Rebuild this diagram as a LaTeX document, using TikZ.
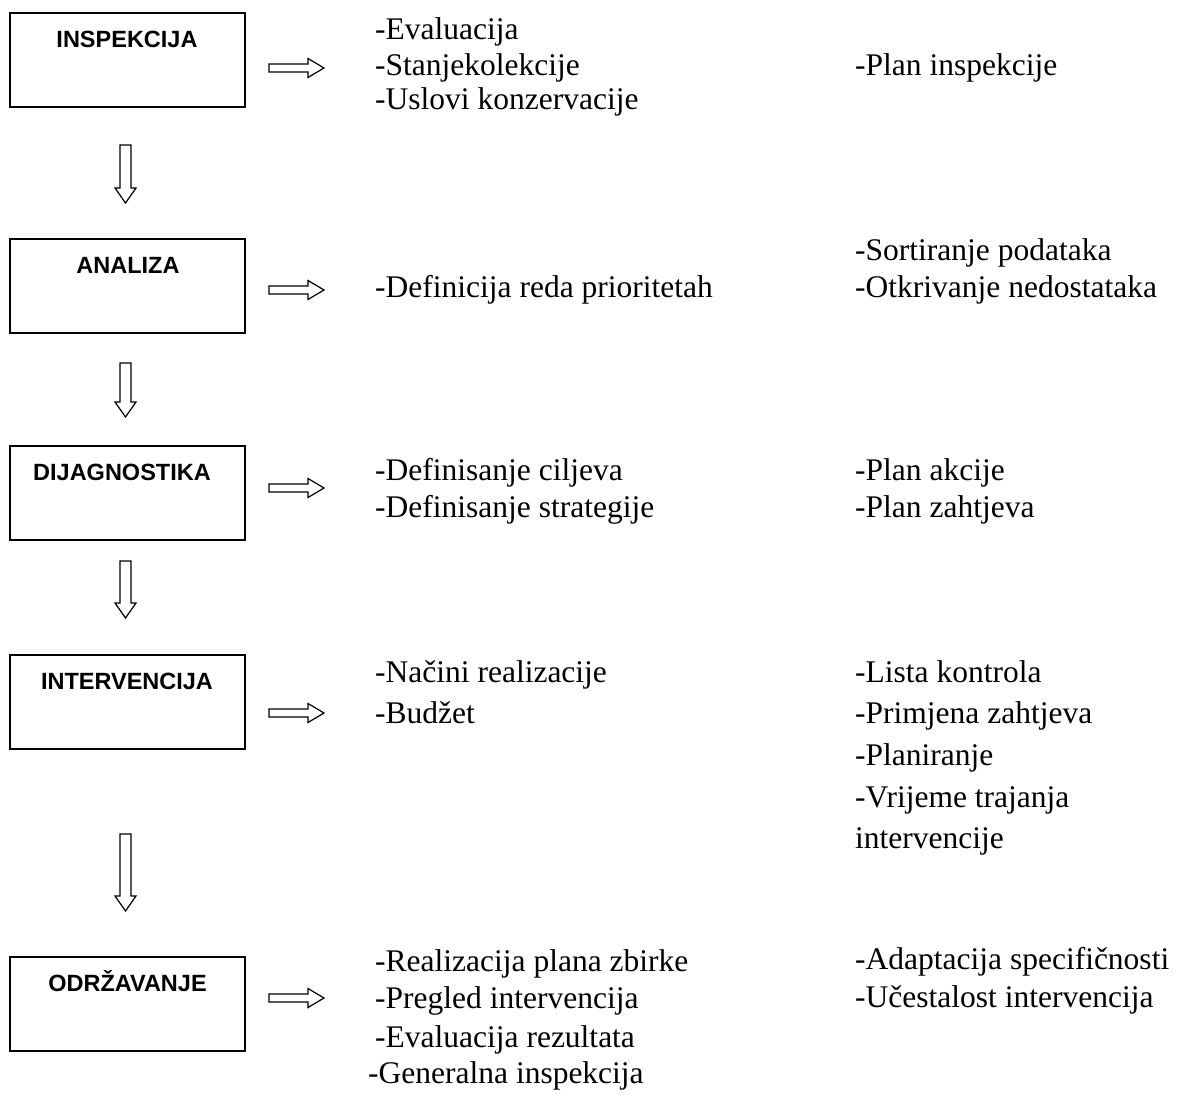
\documentclass[tikz,border=0pt]{standalone}
\usepackage{fontspec}
\setmainfont{Liberation Serif}
\newfontfamily\boxfont{Liberation Sans}
\begin{document}
\begin{tikzpicture}[x=1pt,y=-1pt,
  stage/.style={draw, line width=1.4pt, minimum width=235pt, minimum height=94pt, inner sep=0pt},
  title/.style={font=\boxfont\bfseries\fontsize{23.5}{28}\selectfont, anchor=base, inner sep=0pt},
  item/.style={font=\fontsize{31.5}{36}\selectfont, anchor=base west, inner sep=0pt},
  blk/.style={draw, line width=1.2pt, fill=white, line join=miter},
  pics/rarr/.style={code={\draw[blk] (0,-4) -- (39,-4) -- (39,-9.5) -- (55,0) -- (39,9.5) -- (39,4) -- (0,4) -- cycle;}},
  pics/darr/.style={code={\draw[blk] (-5.5,0) -- (-5.5,{#1-15}) -- (-10.5,{#1-15}) -- (0,#1) -- (10.5,{#1-15}) -- (5.5,{#1-15}) -- (5.5,0) -- cycle;}}]
\useasboundingbox[fill=white] (0,0) rectangle (1178,1110);

% stage boxes
\node[stage] (b1) at (127.5,60) {};
\node[stage] (b2) at (127.5,286) {};
\node[stage] (b3) at (127.5,493) {};
\node[stage] (b4) at (127.5,702) {};
\node[stage] (b5) at (127.5,1004) {};

\node[title] (t1) at (127,48) {INSPEKCIJA};
\node[title] (t2) at (128,273) {ANALIZA};
\node[title] (t3) at (122,480) {DIJAGNOSTIKA};
\node[title] (t4) at (127,689) {INTERVENCIJA};
\node[title] (t5) at (127.5,991) {ODRŽAVANJE};

% right arrows
\pic at (269,68) {rarr};
\pic at (269,290) {rarr};
\pic at (269,488) {rarr};
\pic at (269,713) {rarr};
\pic at (269,998) {rarr};

% down arrows
\pic at (125.5,145) {darr=58};
\pic at (125.5,363) {darr=54};
\pic at (125.5,561) {darr=57};
\pic at (125.5,834) {darr=77};

% INSPEKCIJA
\node[item] (i1a) at (375,40) {-Evaluacija};
\node[item] (i1b) at (375,76) {-Stanjekolekcije};
\node[item] (i1c) at (375,110) {-Uslovi konzervacije};
\node[item] (i1d) at (855,76) {-Plan inspekcije};

% ANALIZA
\node[item] (i2a) at (375,297) {-Definicija reda prioritetah};
\node[item] (i2b) at (855,260) {-Sortiranje podataka};
\node[item] (i2c) at (855,297) {-Otkrivanje nedostataka};

% DIJAGNOSTIKA
\node[item] (i3a) at (375,480) {-Definisanje ciljeva};
\node[item] (i3b) at (375,517) {-Definisanje strategije};
\node[item] (i3c) at (855,480) {-Plan akcije};
\node[item] (i3d) at (855,517) {-Plan zahtjeva};

% INTERVENCIJA
\node[item] (i4a) at (375,682) {-Načini realizacije};
\node[item] (i4b) at (375,723) {-Budžet};
\node[item] (i4c) at (855,682) {-Lista kontrola};
\node[item] (i4d) at (855,723) {-Primjena zahtjeva};
\node[item] (i4e) at (855,765) {-Planiranje};
\node[item] (i4f) at (855,807) {-Vrijeme trajanja};
\node[item] (i4g) at (855,848) {intervencije};

% ODRZAVANJE
\node[item] (i5a) at (375,971) {-Realizacija plana zbirke};
\node[item] (i5b) at (375,1008) {-Pregled intervencija};
\node[item] (i5c) at (375,1047) {-Evaluacija rezultata};
\node[item] (i5d) at (368,1083) {-Generalna inspekcija};
\node[item] (i5e) at (855,969) {-Adaptacija specifičnosti};
\node[item] (i5f) at (855,1007) {-Učestalost intervencija};
\end{tikzpicture}
\end{document}
